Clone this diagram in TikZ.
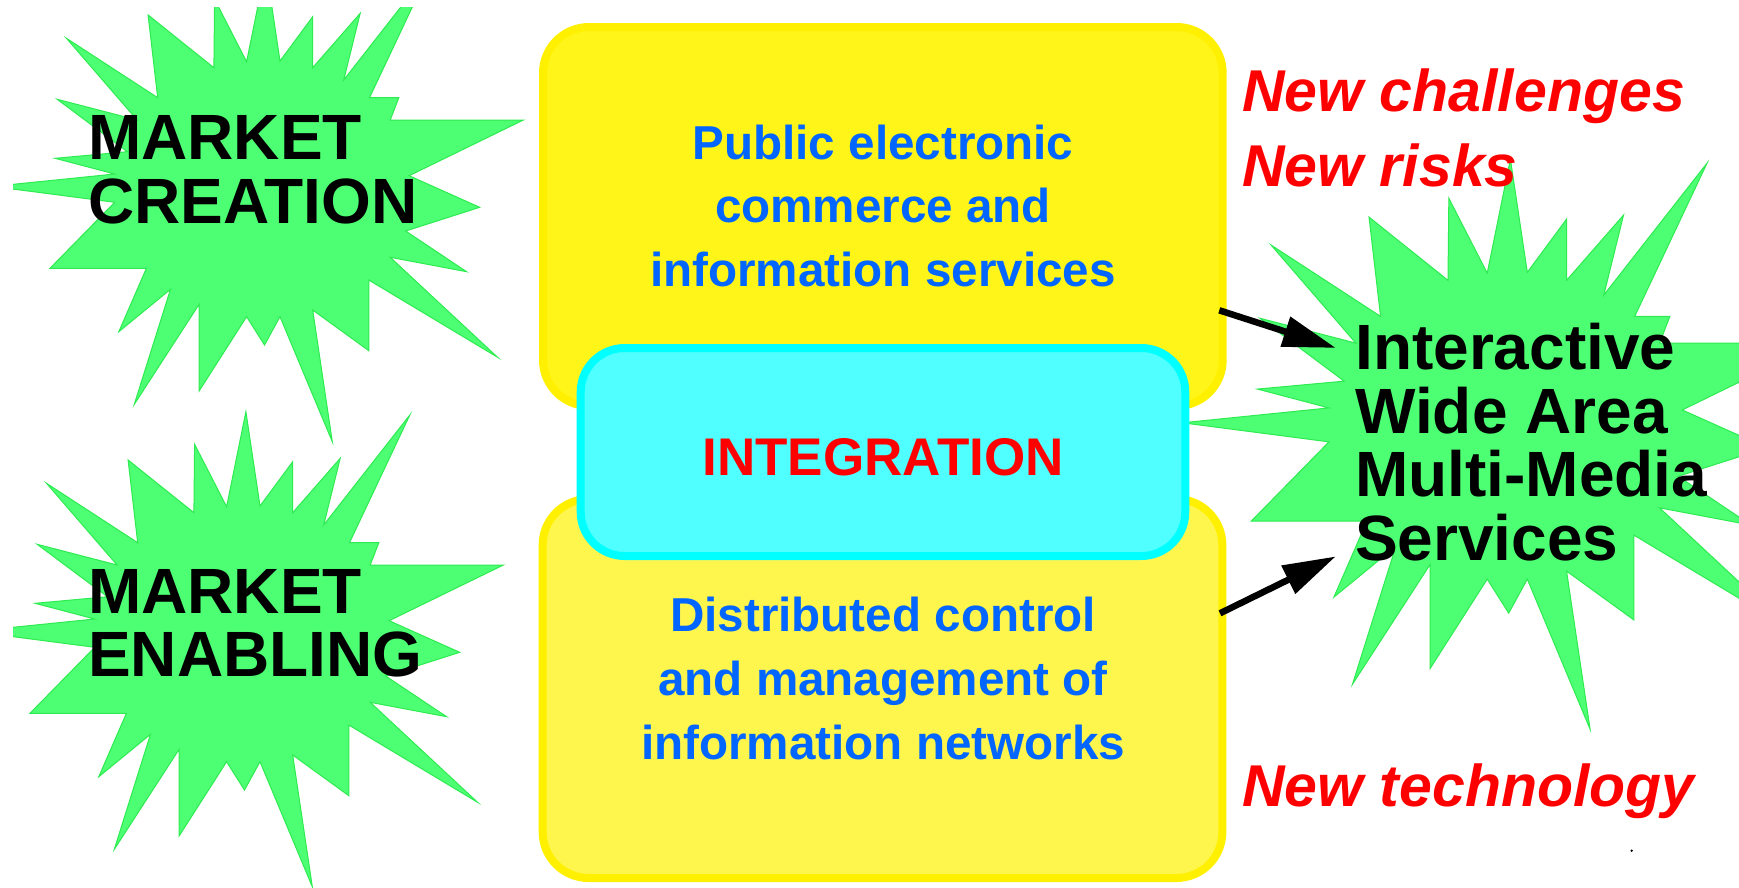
\documentclass[tikz,border=0pt]{standalone}
\usepackage{fontspec}
\setmainfont{Liberation Sans}
\usetikzlibrary{arrows.meta}
\definecolor{burstfill}{RGB}{77,255,115}
\definecolor{burstline}{RGB}{45,235,80}
\definecolor{yelfillA}{RGB}{255,245,25}
\definecolor{yelfillB}{RGB}{255,246,77}
\definecolor{yelline}{RGB}{255,240,0}
\definecolor{cyanfill}{RGB}{80,255,255}
\definecolor{cyanline}{RGB}{0,255,255}
\definecolor{txtblue}{RGB}{0,102,255}
\definecolor{txtred}{RGB}{255,0,0}
\newcommand{\drawburst}{%
  \filldraw[burst] (245.9,411.7) -- (260.0,506.0) -- (292.7,461.7) -- (292.7,512.7) -- (340.2,458.3) -- (323.7,525.0) -- (409.8,415.0) -- (349.5,542.7) -- (378.8,542.7) -- (370.2,565.0) -- (503.4,565.0) -- (389.1,620.7) -- (459.7,652.3) -- (385.7,676.0) -- (446.6,716.7) -- (370.2,702.3) -- (477.6,802.3) -- (348.8,725.0) -- (348.8,795.7) -- (292.7,755.0) -- (312.3,886.7) -- (260.0,761.7) -- (244.5,790.0) -- (226.6,761.7) -- (179.1,836.0) -- (179.1,749.3) -- (114.3,849.3) -- (150.5,734.3) -- (98.8,776.7) -- (126.4,713.3) -- (30.0,713.3) -- (94.7,647.3) -- (-27.4,631.4) -- (94.7,619.0) -- (35.1,603.3) -- (107.4,596.7) -- (37.2,544.3) -- (117.1,565.0) -- (46.5,483.3) -- (137.7,542.7) -- (128.1,460.0) -- (193.9,512.7) -- (194.6,444.3) -- (226.6,506.7) -- cycle;}
\tikzset{
  burst/.style={fill=burstfill, draw=burstline, line width=1pt},
  ybox/.style={draw=yelline, line width=8pt, rounded corners=46pt, inner sep=0pt, minimum width=679.7pt, minimum height=379pt},
  cbox/.style={draw=cyanline, fill=cyanfill, line width=8pt, rounded corners=44pt, inner sep=0pt, minimum width=604.6pt, minimum height=208pt},
  bursttext/.style={font=\fontsize{64}{63.5}\selectfont\bfseries, align=left, inner sep=0pt, anchor=base west},
  boxtext/.style={font=\fontsize{47.6}{63.8}\selectfont\bfseries, text=txtblue, align=center, inner sep=0pt, anchor=base},
  integtext/.style={font=\fontsize{53}{53}\selectfont\bfseries, text=txtred, inner sep=0pt, anchor=base},
  redtext/.style={font=\fontsize{59}{75}\selectfont\bfseries\itshape, text=txtred, align=left, inner sep=0pt, anchor=base west},
  thickarrow/.style={draw=black, line width=6.5pt, -{Triangle[length=53pt,width=30pt]}}
}
\begin{document}
\begin{tikzpicture}[x=1pt,y=-1pt]
\useasboundingbox (0,0) rectangle (1739,887);
\clip (13,7) rectangle (1739,887);
% bursts
\begin{scope}[shift={(20,-445)}]\drawburst\end{scope}
\begin{scope}\drawburst\end{scope}
\begin{scope}[shift={(1215.3,-334.9)}, scale=1.2]\drawburst\end{scope}
% boxes
\node[ybox, fill=yelfillA] (boxA) at (882.85,216.5) {};
\node[ybox, fill=yelfillB] (boxB) at (882.5,688.5) {};
\node[cbox] (integ) at (883,452) {};
% texts (base anchor = baseline of the last line)
\node[bursttext] (mc) at (88,223) {MARKET\\CREATION};
\node[bursttext] (me) at (88,676.5) {MARKET\\ENABLING};
\node[bursttext] (iw) at (1355,560) {Interactive\\Wide Area\\Multi-Media\\Services};
\node[boxtext] (ta) at (883,286.7) {Public electronic\\commerce and\\information services};
\node[boxtext] (tb) at (883,759.3) {Distributed control\\and management of\\information networks};
\node[integtext] (ti) at (883,475.7) {INTEGRATION};
\node[redtext] (nc) at (1242,186.7) {New challenges\\New risks};
\node[redtext] (nt) at (1242,806.7) {New technology};
% arrows
\coordinate (a1s) at (1219.3,310.3);
\coordinate (a1e) at (1335.8,347.9);
\coordinate (a2s) at (1220,613.3);
\coordinate (a2e) at (1335.8,556.4);
\draw[thickarrow] (a1s) -- (a1e);
\draw[thickarrow] (a2s) -- (a2e);
\fill (1631.7,850.7) circle (1.3);
\end{tikzpicture}
\end{document}
